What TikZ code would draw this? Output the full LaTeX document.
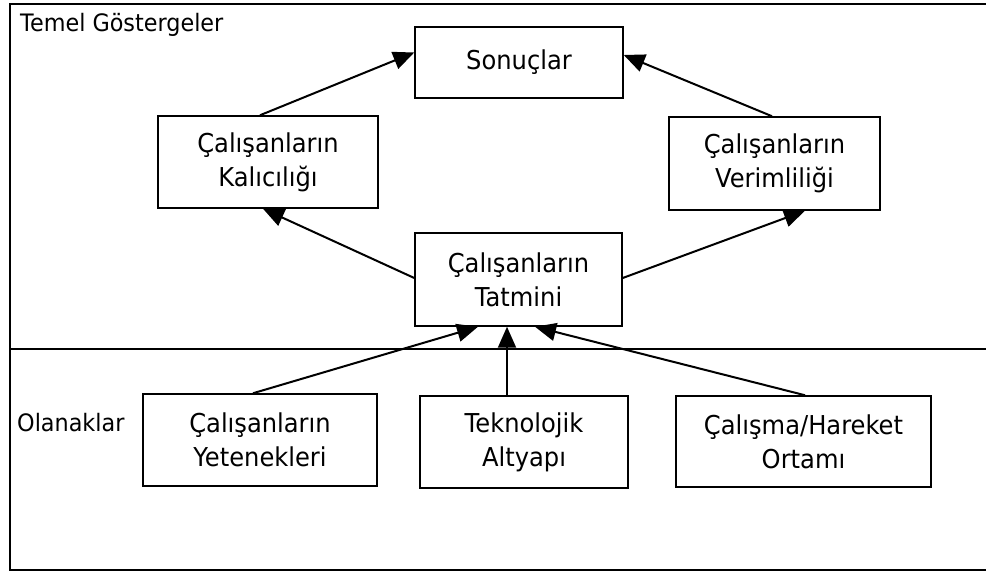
\documentclass[tikz,border=0pt]{standalone}
\usepackage{fontspec}
\setmainfont{DejaVu Sans}[FakeStretch=0.93]
\usetikzlibrary{arrows.meta,calc}
\begin{document}
\begin{tikzpicture}[x=1pt,y=1pt,
  box/.style 2 args={draw, line width=1.5pt, inner sep=0pt, align=center,
    minimum width=#1, minimum height=#2,
    font=\fontsize{26}{34}\selectfont},
  arr/.style={line width=2pt, -{Triangle[length=21pt,width=18pt]}},
  frame/.style={line width=2.8pt},
  divider/.style={line width=1.5pt},
  zone/.style={inner sep=0pt, font=\fontsize{24}{26}\selectfont}]
\useasboundingbox (0,0) rectangle (986,575);

% outer frame and the divider between the two zones
\draw[frame] (986,571) -- (10,571) -- (10,5) -- (986,5);
\draw[divider] (10,226) -- (986,226);

% zone labels
\node[zone, anchor=base west] (lblTop) at (20,543) {Temel Göstergeler};
\node[zone, anchor=base west] (lblBottom) at (17,143) {Olanaklar};

% boxes
\node[box={208pt}{71pt}] (son) at (519,512.5) {Sonuçlar};
\node[box={220pt}{92pt}] (kal) at (268,413) {Çalışanların\\Kalıcılığı};
\node[box={211pt}{93pt}] (ver) at (774.5,411.5) {Çalışanların\\Verimliliği};
\node[box={207pt}{93pt}] (tat) at (518.5,295.5) {Çalışanların\\Tatmini};
\node[box={234pt}{92pt}] (yet) at (260,135) {Çalışanların\\Yetenekleri};
\node[box={208pt}{92pt}] (tek) at (524,133) {Teknolojik\\Altyapı};
\node[box={255pt}{91pt}] (ort) at (803.5,133.5) {Çalışma/Hareket\\Ortamı};

% connectors
\draw[arr] ([xshift=-8pt]kal.north) -- ([yshift=10pt]son.west);
\draw[arr] ([xshift=-2.5pt]ver.north) -- ([yshift=7.5pt]son.east);
\draw[arr] ([yshift=1.5pt]tat.west) -- ([xshift=-5pt]kal.south);
\draw[arr] ([yshift=1.5pt]tat.east) -- ([xshift=30.5pt]ver.south);
\draw[arr] ([xshift=-7pt]yet.north) -- ([xshift=-40.5pt]tat.south);
\draw[arr] ([xshift=-17pt]tek.north) -- ([xshift=-11.5pt]tat.south);
\draw[arr] ([xshift=1.5pt]ort.north) -- ([xshift=16.5pt]tat.south);
\end{tikzpicture}
\end{document}
